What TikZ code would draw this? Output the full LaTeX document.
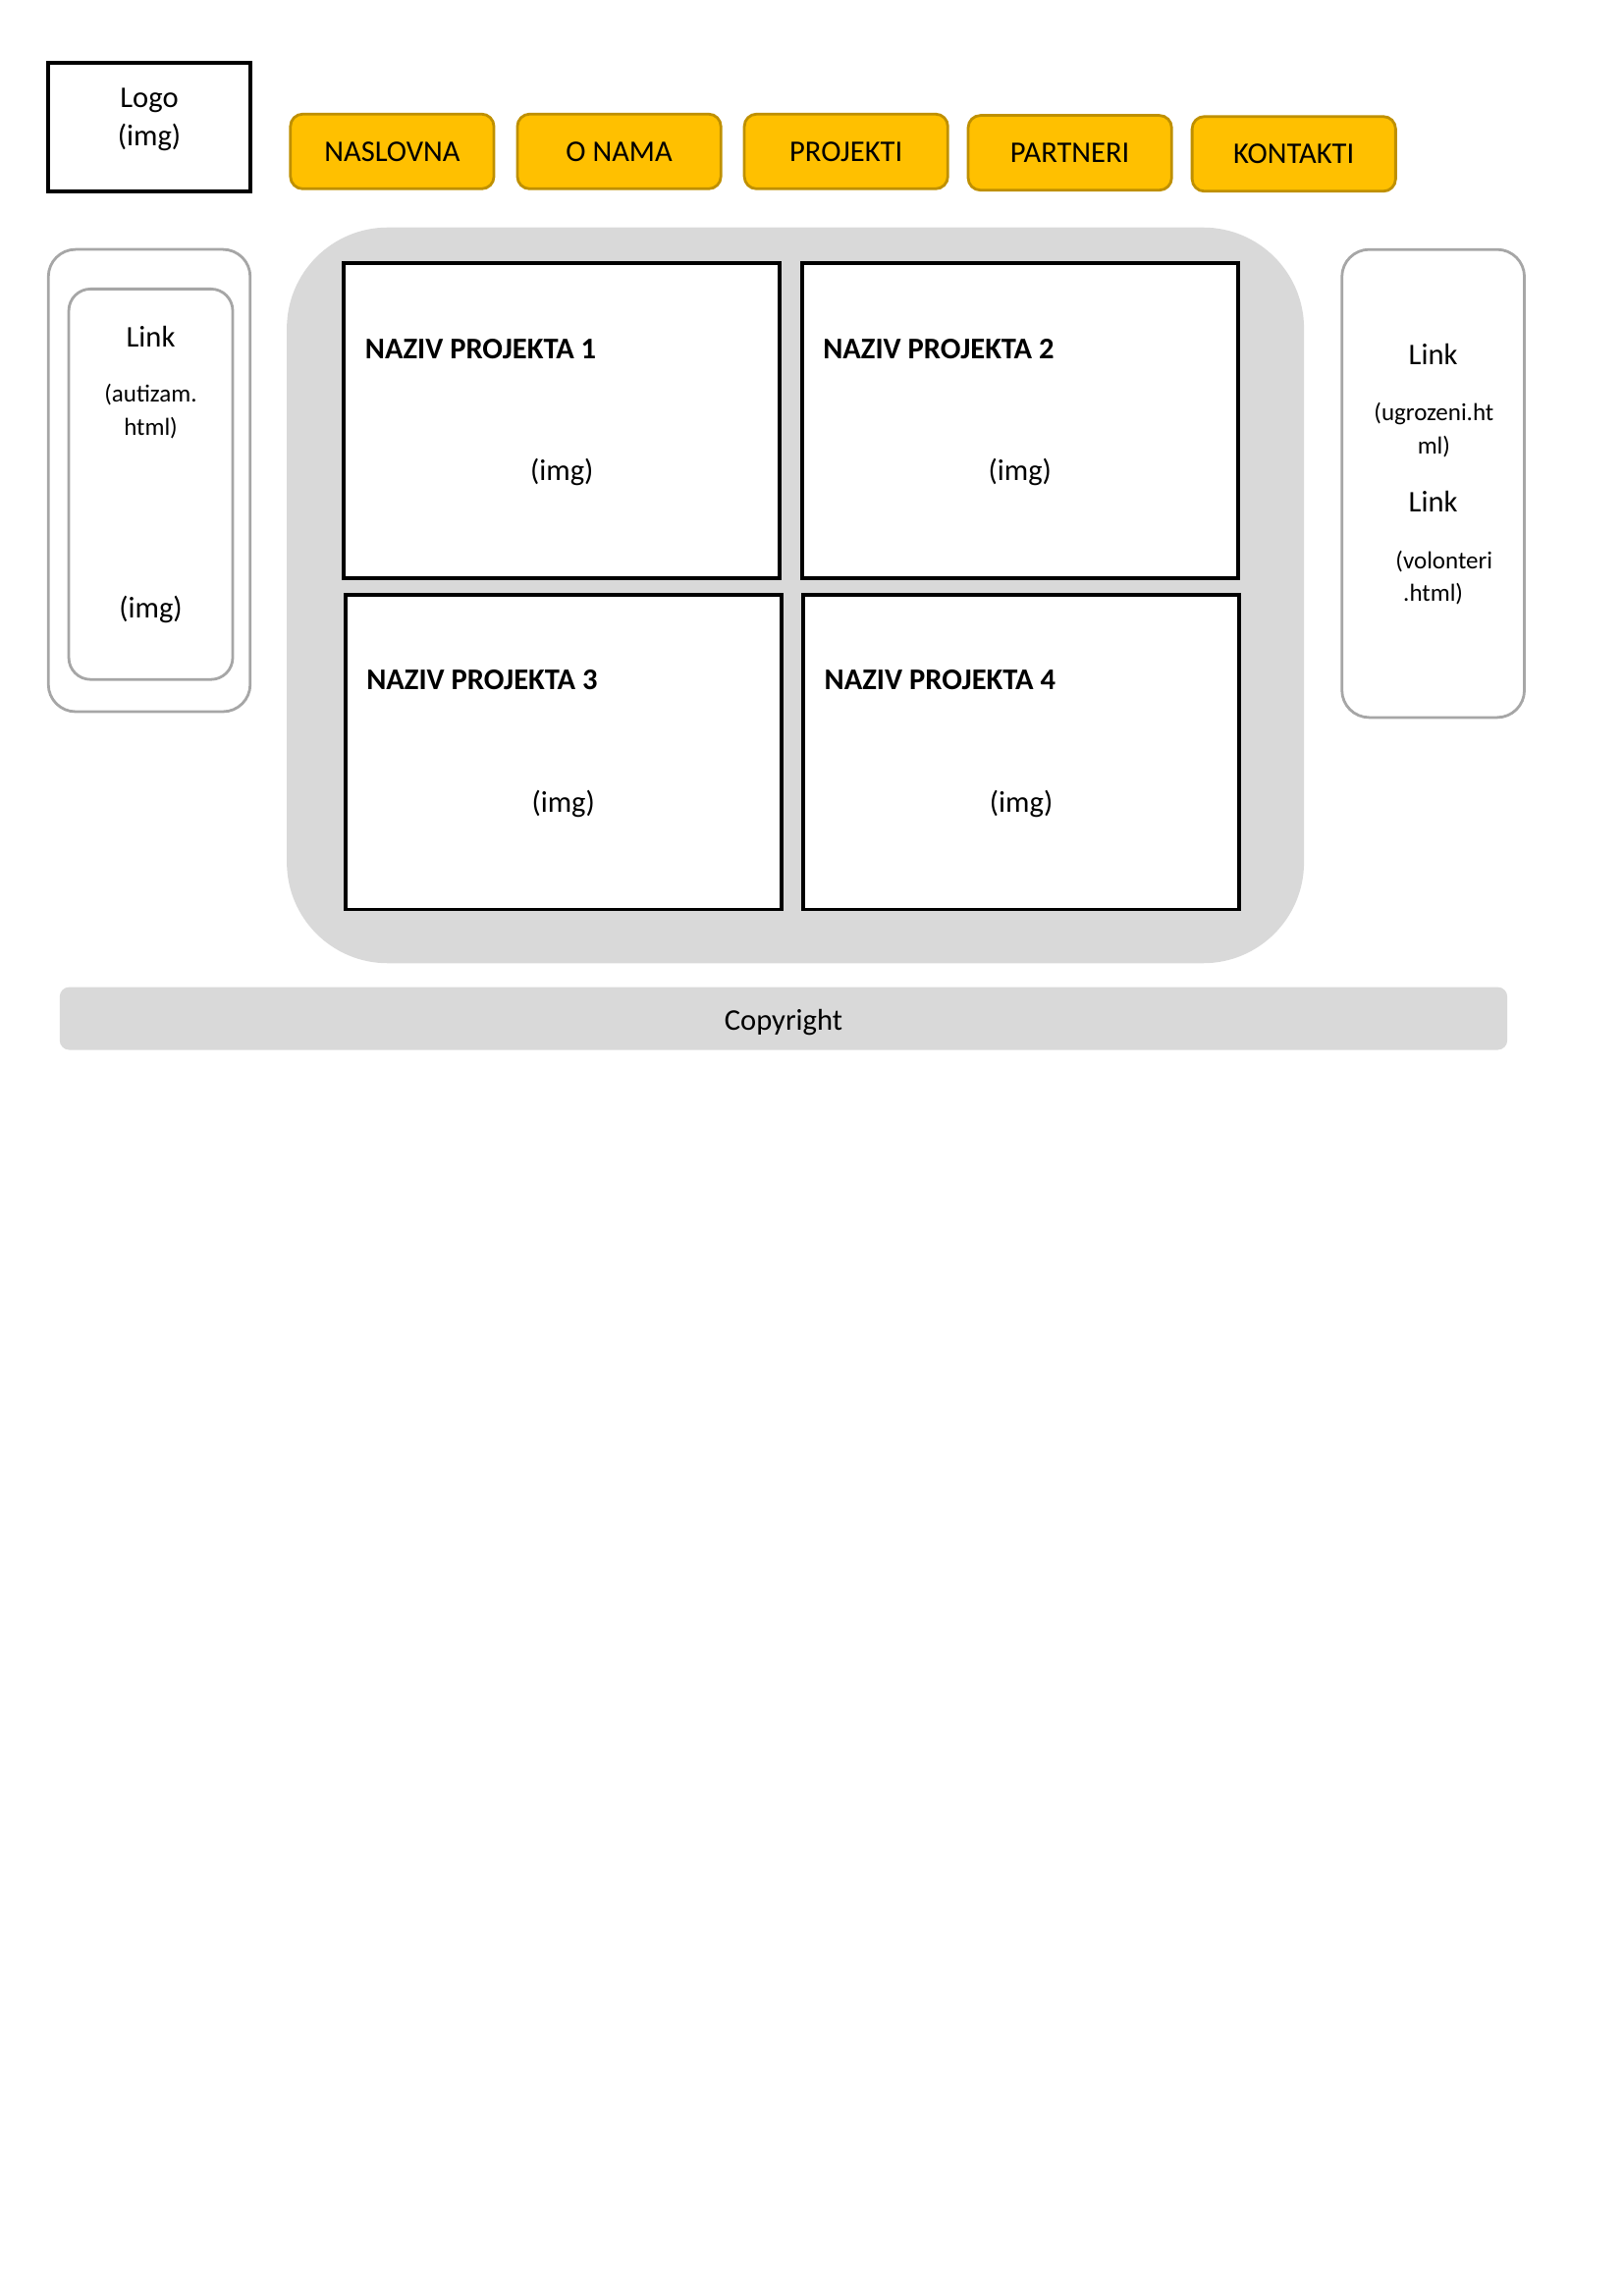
\documentclass[tikz,border=0pt]{standalone}
\usepackage{fontspec}
\setmainfont{Carlito}
\usetikzlibrary{positioning}

\definecolor{navfill}{HTML}{FFC000}
\definecolor{navline}{HTML}{BF9000}
\definecolor{panelgray}{HTML}{D9D9D9}
\definecolor{linkgray}{HTML}{A6A6A6}

\begin{document}
\begin{tikzpicture}[x=0.5397pt, y=-0.5397pt,
  logobox/.style={rectangle, minimum width=74pt, minimum height=47.2pt, draw=black, line width=1.4pt},
  navbtn/.style={rectangle, rounded corners=4.5pt, minimum width=74.6pt, minimum height=27.4pt, draw=navline, line width=1pt, fill=navfill, font=\fontsize{11}{13}\selectfont},
  linkbox/.style={rectangle, rounded corners=10pt, draw=linkgray, line width=1pt, fill=white},
  panel/.style={rectangle, rounded corners=37pt, minimum width=372.9pt, minimum height=269.8pt, fill=panelgray},
  project/.style={rectangle, minimum width=159.9pt, minimum height=115.3pt, draw=black, line width=1.4pt, fill=white},
  title/.style={anchor=base west, inner sep=0pt, font=\bfseries\fontsize{11}{13}\selectfont},
  imgtext/.style={inner sep=0pt, align=center, font=\fontsize{11}{14}\selectfont},
  small/.style={inner sep=0pt, align=center, font=\fontsize{9}{11.9}\selectfont},
  footer/.style={rectangle, rounded corners=3.5pt, minimum width=530.7pt, minimum height=23pt, fill=panelgray}]

  \useasboundingbox (0,0) rectangle (1103,1560);

  % Header
  \node (logo) [logobox] at (101.4,86.5) {};
  \node (logotext) [imgtext] at (101.4,81.5) {Logo\\(img)};
  \node (naslovna) [navbtn] at (266.4,102.9) {NASLOVNA};
  \node (onama) [navbtn, right=7.6pt of naslovna] {O NAMA};
  \node (projekti) [navbtn, right=7.6pt of onama] {PROJEKTI};
  \node (partneri) [navbtn, right=6.45pt of projekti, yshift=-0.5pt] {PARTNERI};
  \node (kontakti) [navbtn, right=6.5pt of partneri, yshift=-0.4pt] {KONTAKTI};

  % Left column
  \node (leftouter) [linkbox, minimum width=74pt, minimum height=169.5pt] at (101.4,326.5) {};
  \node (leftinner) [linkbox, rounded corners=8pt, minimum width=60.1pt, minimum height=143.2pt] at (102.4,329) {};
  \node (leftlink) [imgtext] at (102.4,228.8) {Link};
  \node (lefthref) [small] at (102.4,279.5) {(autizam.\\html)};
  \node (leftimg) [imgtext] at (102.4,414.3) {(img)};

  % Projects
  \node (main) [panel] at (540.3,404.5) {};
  \node (p1) [project] at (381.7,285.8) {};
  \node (p2) [project, right=6.6pt of p1] {};
  \node (p3) [project, below=4.9pt of p1, xshift=0.5pt] {};
  \node (p4) [project, right=6.6pt of p3] {};

  \node (p1title) [title] at ([xshift=8.3pt, yshift=-35.5pt]p1.north west) {NAZIV PROJEKTA 1};
  \node (p2title) [title] at ([xshift=8.3pt, yshift=-35.5pt]p2.north west) {NAZIV PROJEKTA 2};
  \node (p3title) [title] at ([xshift=8.3pt, yshift=-35.5pt]p3.north west) {NAZIV PROJEKTA 3};
  \node (p4title) [title] at ([xshift=8.3pt, yshift=-35.5pt]p4.north west) {NAZIV PROJEKTA 4};
  \node (p1img) [imgtext] at ([yshift=-19pt]p1.center) {(img)};
  \node (p2img) [imgtext] at ([yshift=-19pt]p2.center) {(img)};
  \node (p3img) [imgtext] at ([yshift=-19pt]p3.center) {(img)};
  \node (p4img) [imgtext] at ([yshift=-19pt]p4.center) {(img)};

  % Right column
  \node (rightbox) [linkbox, minimum width=66.9pt, minimum height=171.6pt] at (973.5,328.5) {};
  \node (rightlink1) [imgtext] at (973.5,241) {Link};
  \node (righthref1) [small] at (974,292.2) {(ugrozeni.ht\\ml)};
  \node (rightlink2) [imgtext] at (973.5,341) {Link};
  \node (righthref2) [small] at (973.5,392.6) {\hspace*{8pt}(volonteri\\.html)};

  % Footer
  \node (copyright) [footer] at (532.2,692) {};
  \node (copytext) [imgtext] at (532.2,694.5) {Copyright};

\end{tikzpicture}
\end{document}
